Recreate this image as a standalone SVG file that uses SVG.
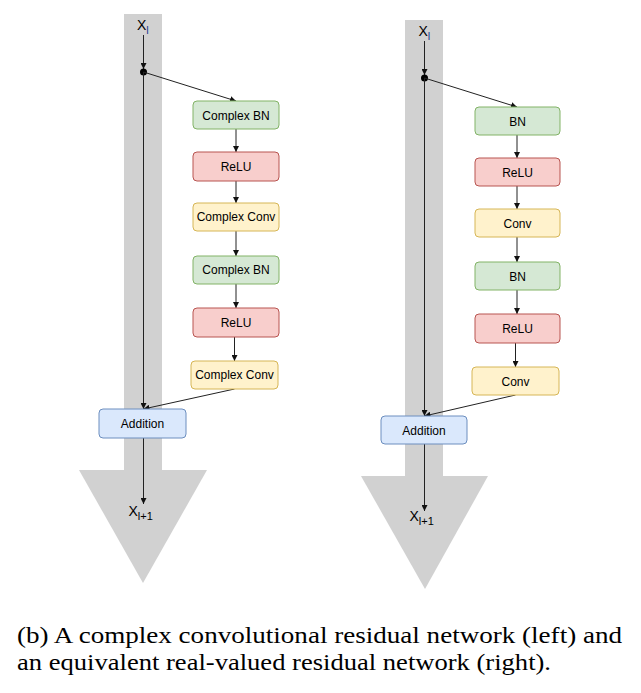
<svg xmlns="http://www.w3.org/2000/svg" width="641" height="693" viewBox="0 0 641 693">
<style>
.bar{fill:#d1d1d1;stroke:none}
.box{stroke-width:1}
.g{fill:#d5e8d4;stroke:#82b366}
.r{fill:#f8cecc;stroke:#b85450}
.y{fill:#fff2cc;stroke:#d6b656}
.b{fill:#dae8fc;stroke:#6c8ebf}
.lbl{font-family:'Liberation Sans',Arimo,Arial,Helvetica,sans-serif;font-size:12px;fill:#000;text-anchor:middle}
.x{font-family:'Liberation Sans',Arimo,Arial,Helvetica,sans-serif;font-size:14px;fill:#000}
.sub{font-size:11px}
.cap{font-family:'Liberation Serif',Tinos,'Times New Roman',Times,serif;font-size:23.5px;fill:#000}
.c{fill:none;stroke:#222;stroke-width:1}
</style>
<defs>
<marker id="ah" viewBox="0 0 10 10" refX="10" refY="5" markerWidth="6" markerHeight="6" markerUnits="userSpaceOnUse" orient="auto">
<path d="M0,0 L10,5 L0,10 z" fill="#111"/>
</marker>
</defs>
<rect width="641" height="693" fill="#fff"/>
<g id="left-backbone">
<rect class="bar" x="124" y="14" width="38" height="457"/>
<polygon class="bar" points="79,470 207,470 143,583"/>
</g>
<g id="right-backbone">
<rect class="bar" x="405" y="20" width="38" height="456"/>
<polygon class="bar" points="361,476 488,476 425,589"/>
</g>
<g id="connectors">
<line class="c" x1="143.5" y1="35" x2="143.5" y2="69" marker-end="url(#ah)"/>
<circle cx="143.5" cy="72" r="3.5" fill="#000"/>
<line class="c" x1="143.5" y1="72" x2="143.5" y2="409" marker-end="url(#ah)"/>
<line class="c" x1="143.5" y1="72" x2="236" y2="101" marker-end="url(#ah)"/>
<line class="c" x1="236" y1="129" x2="236" y2="152" marker-end="url(#ah)"/>
<line class="c" x1="236" y1="181" x2="236" y2="203" marker-end="url(#ah)"/>
<line class="c" x1="236" y1="231" x2="236" y2="256" marker-end="url(#ah)"/>
<line class="c" x1="236" y1="284" x2="236" y2="308" marker-end="url(#ah)"/>
<line class="c" x1="234.5" y1="337" x2="234.5" y2="361" marker-end="url(#ah)"/>
<line class="c" x1="234.5" y1="389" x2="143.5" y2="409" marker-end="url(#ah)"/>
<line class="c" x1="143.5" y1="438" x2="143.5" y2="504" marker-end="url(#ah)"/>

<line class="c" x1="424.5" y1="41" x2="424.5" y2="75" marker-end="url(#ah)"/>
<circle cx="424.5" cy="78" r="3.5" fill="#000"/>
<line class="c" x1="424.5" y1="78" x2="424.5" y2="416" marker-end="url(#ah)"/>
<line class="c" x1="424.5" y1="78" x2="517" y2="107" marker-end="url(#ah)"/>
<line class="c" x1="517" y1="135" x2="517" y2="158" marker-end="url(#ah)"/>
<line class="c" x1="517" y1="186" x2="517" y2="209" marker-end="url(#ah)"/>
<line class="c" x1="517" y1="237" x2="517" y2="262" marker-end="url(#ah)"/>
<line class="c" x1="517" y1="290" x2="517" y2="314" marker-end="url(#ah)"/>
<line class="c" x1="515.5" y1="343" x2="515.5" y2="367" marker-end="url(#ah)"/>
<line class="c" x1="515.5" y1="395" x2="424.5" y2="416" marker-end="url(#ah)"/>
<line class="c" x1="424.5" y1="444" x2="424.5" y2="511" marker-end="url(#ah)"/>
</g>
<g id="left-xl"><text class="x" x="137" y="30">X<tspan class="sub" dy="4" fill="#1f3f8f">l</tspan></text></g>
<g id="left-bn1"><rect class="box g" x="193" y="101" width="86" height="28" rx="4"/><text class="lbl" x="236" y="119.5">Complex BN</text></g>
<g id="left-relu1"><rect class="box r" x="193" y="152" width="86" height="29" rx="4"/><text class="lbl" x="236" y="170.5">ReLU</text></g>
<g id="left-conv1"><rect class="box y" x="193" y="203" width="86" height="28" rx="4"/><text class="lbl" x="236" y="221">Complex Conv</text></g>
<g id="left-bn2"><rect class="box g" x="193" y="256" width="86" height="28" rx="4"/><text class="lbl" x="236" y="274">Complex BN</text></g>
<g id="left-relu2"><rect class="box r" x="193" y="308" width="86" height="29" rx="4"/><text class="lbl" x="236" y="326.5">ReLU</text></g>
<g id="left-conv2"><rect class="box y" x="191" y="361" width="87" height="28" rx="4"/><text class="lbl" x="234.5" y="379">Complex Conv</text></g>
<g id="left-add"><rect class="box b" x="99" y="409" width="87" height="29" rx="4"/><text class="lbl" x="142.5" y="427.5">Addition</text></g>
<g id="left-xl1"><text class="x" x="128.5" y="516">X<tspan class="sub" dy="4">l+1</tspan></text></g>

<g id="right-xl"><text class="x" x="418.5" y="36">X<tspan class="sub" dy="4" fill="#1f3f8f">l</tspan></text></g>
<g id="right-bn1"><rect class="box g" x="475" y="107" width="85" height="28" rx="4"/><text class="lbl" x="517.5" y="125.5">BN</text></g>
<g id="right-relu1"><rect class="box r" x="475" y="158" width="85" height="28" rx="4"/><text class="lbl" x="517.5" y="176.5">ReLU</text></g>
<g id="right-conv1"><rect class="box y" x="475" y="209" width="85" height="28" rx="4"/><text class="lbl" x="517.5" y="227.5">Conv</text></g>
<g id="right-bn2"><rect class="box g" x="475" y="262" width="85" height="28" rx="4"/><text class="lbl" x="517.5" y="280.5">BN</text></g>
<g id="right-relu2"><rect class="box r" x="475" y="314" width="85" height="29" rx="4"/><text class="lbl" x="517.5" y="332.5">ReLU</text></g>
<g id="right-conv2"><rect class="box y" x="472" y="367" width="87" height="28" rx="4"/><text class="lbl" x="515.5" y="385.5">Conv</text></g>
<g id="right-add"><rect class="box b" x="381" y="416" width="86" height="28" rx="4"/><text class="lbl" x="424" y="434.5">Addition</text></g>
<g id="right-xl1"><text class="x" x="409.5" y="521">X<tspan class="sub" dy="4">l+1</tspan></text></g>

<g id="caption">
<text class="cap" x="17" y="643" textLength="605" lengthAdjust="spacingAndGlyphs">(b) A complex convolutional residual network (left) and</text>
<text class="cap" x="17" y="670" textLength="534" lengthAdjust="spacingAndGlyphs">an equivalent real-valued residual network (right).</text>
</g>
</svg>
